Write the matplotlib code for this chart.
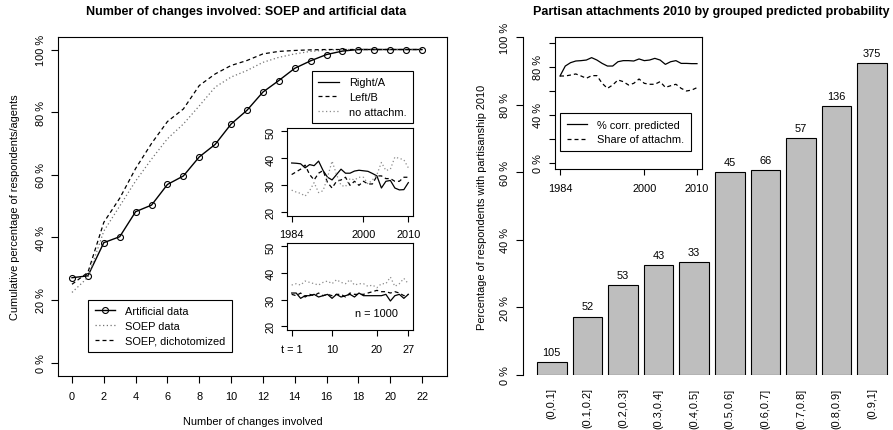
import matplotlib
matplotlib.use('Agg')
import matplotlib.pyplot as plt

plt.rcParams['font.family'] = ['Liberation Sans', 'DejaVu Sans']
plt.rcParams['font.size'] = 7.9

# left panel: cumulative share by number of changes
changes = list(range(23))
artificial = [27.1, 27.7, 38.3, 40.2, 48.2, 50.3, 56.9, 59.6, 65.7, 69.7, 76.2, 80.6,
              86.4, 90.1, 94.0, 96.4, 98.4, 99.5, 100, 100, 100, 100, 100]
soep = [22.4, 27.2, 42.0, 50.0, 58.0, 65.0, 71.5, 76.2, 82.0, 88.0, 91.2, 93.3,
        95.9, 97.5, 98.6, 99.4, 99.8, 100, 100, 100, 100, 100, 100]
soep_dich = [25.0, 28.8, 44.8, 52.5, 62.0, 70.0, 77.0, 81.0, 88.5, 92.2, 94.9, 96.5,
             98.6, 99.4, 99.7, 99.9, 100, 100, 100, 100, 100, 100, 100]

# inset: SOEP shares 1984-2010
years = list(range(1984, 2011))
soep_right = [38.3, 38.2, 38.0, 36.5, 37.7, 37.3, 39.0, 35.5, 33.0, 32.0, 34.0, 36.0, 34.5, 34.5,
              35.3, 35.6, 35.4, 35.2, 34.4, 33.5, 29.0, 31.5, 31.8, 29.0, 28.3, 28.4, 31.0]
soep_left = [34.0, 35.0, 36.0, 37.5, 34.0, 32.0, 34.5, 35.5, 31.0, 29.0, 31.5, 32.0, 33.0, 30.0,
             31.5, 30.0, 31.5, 30.5, 30.5, 33.5, 33.5, 32.5, 32.5, 31.5, 31.5, 33.0, 33.0]
soep_none = [28.2, 27.5, 27.0, 26.0, 28.0, 31.0, 27.3, 28.0, 33.0, 39.0, 34.0, 30.0, 29.5, 32.5,
             32.0, 33.0, 33.0, 30.5, 32.0, 34.0, 38.5, 35.5, 36.0, 40.5, 40.0, 39.5, 36.5]

# inset: simulated shares, n = 1000
t_steps = list(range(1, 28))
sim_right = [32.5, 32.5, 30.5, 31.5, 31.5, 32.0, 31.0, 31.5, 32.0, 30.5, 32.0, 31.0, 31.5, 32.0,
             31.0, 32.5, 31.5, 31.5, 31.5, 31.5, 31.5, 32.0, 29.5, 31.5, 32.0, 30.5, 32.0]
sim_left = [32.0, 31.5, 32.5, 31.0, 32.0, 31.5, 32.5, 31.5, 32.0, 31.5, 32.0, 32.0, 31.0, 32.5,
            32.0, 32.0, 32.0, 32.5, 33.0, 33.5, 33.0, 33.0, 32.5, 33.0, 32.5, 31.5, 32.0]
sim_none = [35.5, 36.0, 35.5, 37.0, 36.5, 36.0, 35.5, 36.5, 37.0, 36.0, 37.5, 36.5, 36.0, 37.5,
            35.5, 36.0, 36.0, 35.0, 35.5, 34.5, 36.0, 36.0, 38.5, 35.0, 36.0, 38.0, 36.0]

# right panel: partisanship by predicted probability group
groups = ['(0,0.1]', '(0.1,0.2]', '(0.2,0.3]', '(0.3,0.4]', '(0.4,0.5]',
          '(0.5,0.6]', '(0.6,0.7]', '(0.7,0.8]', '(0.8,0.9]', '(0.9,1]']
share_attached = [3.8, 17.3, 26.5, 32.6, 33.4, 60.0, 60.6, 70.2, 79.5, 92.3]
group_n = [105, 52, 53, 43, 33, 45, 66, 57, 136, 375]

corr_predicted = [72.5, 80.8, 83.6, 85.0, 85.3, 85.8, 87.8, 85.8, 83.0, 80.8, 80.8, 84.4, 85.3, 85.3,
                  85.0, 86.7, 85.3, 85.8, 87.2, 85.8, 82.2, 84.4, 85.3, 83.0, 83.0, 82.8, 82.8]
share_attachm = [72.5, 72.5, 73.3, 74.2, 72.5, 70.6, 72.8, 72.8, 66.4, 62.2, 65.0, 69.2, 67.8, 65.0,
                 66.4, 70.0, 66.4, 65.6, 65.6, 67.8, 63.0, 64.4, 65.6, 62.2, 60.0, 60.8, 62.8]

W, H = 893, 431
fig = plt.figure(figsize=(W / 100, H / 100), dpi=100)

DASH = (3.2, 2.4)
DOT = (1, 2)


def px_axes(x0, y0, x1, y1):
    return fig.add_axes([x0 / W, 1 - y1 / H, (x1 - x0) / W, (y1 - y0) / H])


def r_style(ax, length=5):
    for s in ax.spines.values():
        s.set_linewidth(0.8)
        s.set_color('black')
    ax.tick_params(direction='out', length=length, width=0.8, pad=4, colors='black')


def r_legend(ax, handles, **kw):
    leg = ax.legend(handles=handles, frameon=True, fancybox=False, edgecolor='black',
                    framealpha=1, borderaxespad=0, handlelength=1.9, handletextpad=0.9,
                    labelspacing=0.42, borderpad=0.6, **kw)
    leg.get_frame().set_linewidth(0.8)
    return leg


# ---- left panel
ax1 = px_axes(58, 38, 447, 377)
h_art, = ax1.plot(changes, artificial, '-o', color='black', lw=1, ms=4.3, mfc='none',
                  mew=0.8, label='Artificial data')
h_soep, = ax1.plot(changes, soep, color='0.45', lw=0.9, dashes=DOT, label='SOEP data')
h_dich, = ax1.plot(changes, soep_dich, color='black', lw=0.9, dashes=DASH,
                   label='SOEP, dichotomized')
ax1.set_xlim(-0.88, 23.57)
ax1.set_ylim(-4.3, 104)
ax1.set_xticks(range(0, 23, 2))
ax1.set_yticks(range(0, 101, 20), [f'{v} %' for v in range(0, 101, 20)], rotation=90, va='center')
r_style(ax1)
ax1.tick_params(axis='x', pad=6)
ax1.set_xlabel('Number of changes involved', va='center')
ax1.xaxis.set_label_coords(0.5, -0.133)
ax1.set_ylabel('Cumulative percentage of respondents/agents', va='center')
ax1.yaxis.set_label_coords(-0.1105, 0.5)
leg1 = r_legend(ax1, [h_art, h_soep, h_dich], loc='lower left', bbox_to_anchor=(0.077, 0.071))
ax1.add_artist(leg1)

in1 = px_axes(287, 129, 413, 217)
l_r, = in1.plot(years, soep_right, color='black', lw=0.9, label='Right/A')
l_l, = in1.plot(years, soep_left, color='black', lw=0.9, dashes=DASH, label='Left/B')
l_n, = in1.plot(years, soep_none, color='0.55', lw=0.9, dashes=DOT, label='no attachm.')
in1.set_xlim(1982.96, 2011.04)
in1.set_ylim(18.6, 51.3)
in1.set_xticks([1984, 2000, 2010])
in1.set_yticks([20, 30, 40, 50], ['20', '30', '40', '50'], rotation=90, va='center')
r_style(in1, 4.3)
in1.tick_params(axis='x', pad=5)

in2 = px_axes(287, 244, 413, 331)
in2.plot(t_steps, sim_right, color='black', lw=0.9)
in2.plot(t_steps, sim_left, color='black', lw=0.9, dashes=DASH)
in2.plot(t_steps, sim_none, color='0.55', lw=0.9, dashes=DOT)
in2.set_xlim(-0.04, 28.04)
in2.set_ylim(18.6, 51.3)
in2.set_xticks([1, 10, 20, 27], ['t = 1', '10', '20', '27'])
in2.set_yticks([20, 30, 40, 50], ['20', '30', '40', '50'], rotation=90, va='center')
r_style(in2, 4.3)
in2.tick_params(axis='x', pad=6)
in2.text(0.714, 0.2, 'n = 1000', transform=in2.transAxes, ha='center', va='center')

r_legend(ax1, [l_r, l_l, l_n], loc='upper right', bbox_to_anchor=(0.913, 0.9))

fig.text(246 / W, 1 - 12 / H, 'Number of changes involved: SOEP and artificial data',
         ha='center', va='center', fontsize=9, fontweight='bold')

# ---- right panel
ax2 = px_axes(523, 38, 901, 376)
pos = [0.7 + 1.2 * i for i in range(len(groups))]
ax2.bar(pos, share_attached, width=1, color='#BEBEBE', edgecolor='black', linewidth=0.8)
for p, v, n in zip(pos, share_attached, group_n):
    ax2.text(p, v + 3, str(n), ha='center', va='center')
ax2.set_xlim(-0.272, 12.472)
ax2.set_ylim(0, 100)
for s in ['top', 'right', 'bottom']:
    ax2.spines[s].set_visible(False)
ax2.set_yticks(range(0, 101, 20), [f'{v} %' for v in range(0, 101, 20)], rotation=90, va='center')
ax2.set_xticks(pos, groups, rotation=90, va='top', ha='center')
r_style(ax2)
ax2.tick_params(axis='x', length=0, pad=9)
ax2.set_ylabel('Percentage of respondents with partisanship 2010', va='center')
ax2.yaxis.set_label_coords(-0.108, 0.5)

in3 = px_axes(555, 38, 702, 170)
c_p, = in3.plot(years, corr_predicted, color='black', lw=0.9, label='% corr. predicted')
s_a, = in3.plot(years, share_attachm, color='black', lw=0.9, dashes=DASH, label='Share of attachm.')
in3.set_xlim(1983.05, 2010.95)
in3.set_ylim(-5, 105)
in3.set_xticks([1984, 2000, 2010])
in3.set_yticks(range(0, 101, 20), ['0 %', '', '40 %', '', '80 %', ''], rotation=90, va='center')
r_style(in3, 4.3)
in3.tick_params(axis='x', pad=6)
r_legend(in3, [c_p, s_a], loc='lower left', bbox_to_anchor=(0.034, 0.136))

fig.text(711 / W, 1 - 12 / H, 'Partisan attachments 2010 by grouped predicted probability',
         ha='center', va='center', fontsize=9, fontweight='bold')

fig.savefig('out.png', dpi=100)
